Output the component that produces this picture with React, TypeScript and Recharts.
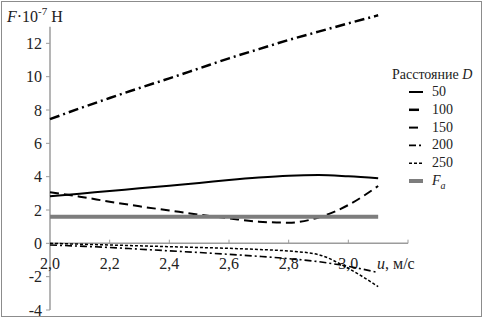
import { LineChart, Line, XAxis, YAxis, ReferenceLine } from 'recharts'

const speeds = [2.0, 2.1, 2.2, 2.3, 2.4, 2.5, 2.6, 2.7, 2.8, 2.9, 3.0, 3.1]
const d50 = [2.82, 2.98, 3.14, 3.3, 3.46, 3.62, 3.8, 3.95, 4.06, 4.1, 4.02, 3.9]
const d100 = [7.45, 8.1, 8.72, 9.32, 9.9, 10.5, 11.1, 11.65, 12.2, 12.7, 13.2, 13.68]
const d150 = [3.06, 2.8, 2.5, 2.22, 1.97, 1.72, 1.5, 1.3, 1.24, 1.55, 2.3, 3.44]
const d200 = [-0.1, -0.17, -0.25, -0.35, -0.45, -0.55, -0.66, -0.78, -0.92, -1.1, -1.38, -1.75]
const d250 = [0, -0.05, -0.1, -0.15, -0.2, -0.25, -0.3, -0.37, -0.46, -0.68, -1.5, -2.6]
const fa = [1.6, 1.6, 1.6, 1.6, 1.6, 1.6, 1.6, 1.6, 1.6, 1.6, 1.6, 1.6]

const xTicks = [2.0, 2.2, 2.4, 2.6, 2.8, 3.0]
const xTickMarks = [2.2, 2.4, 2.6, 2.8, 3.0, 3.2]
const yTicks = [-4, -2, 0, 2, 4, 6, 8, 10, 12]

const series = [
  { key: 'd50', name: '50', width: 2, dash: undefined, color: '#000' },
  { key: 'd100', name: '100', width: 2.5, dash: '10 4 2 4', color: '#000' },
  { key: 'd150', name: '150', width: 2, dash: '9 5', color: '#000' },
  { key: 'd200', name: '200', width: 1.6, dash: '7 3 2 3', color: '#000' },
  { key: 'd250', name: '250', width: 1.5, dash: '3 2', color: '#000' },
  { key: 'fa', name: 'Fa', width: 4, dash: undefined, color: '#7d7d7d' },
]

const data = speeds.map((u, i) => ({
  u,
  d50: d50[i],
  d100: d100[i],
  d150: d150[i],
  d200: d200[i],
  d250: d250[i],
  fa: fa[i],
}))

const font = 'Tinos, "Liberation Serif", serif'
const axisColor = '#9c9c9c'
const textColor = '#222'
const fmt = (v: number) => v.toFixed(1).replace('.', ',')

function YTick(props: any) {
  const { x, y, payload } = props
  return (
    <text x={x} y={y} dy={5.5} textAnchor="end" style={{ fontFamily: font, fontSize: 16 }} fill={textColor}>
      {payload.value}
    </text>
  )
}

function XTickLabel(props: any) {
  const { viewBox, value } = props
  if (!viewBox) return null
  return (
    <text
      x={viewBox.x}
      y={viewBox.y + 26}
      textAnchor="middle"
      style={{ fontFamily: font, fontSize: 16 }}
      fill={textColor}
    >
      {value}
    </text>
  )
}

const html = (left: number, top: number, size: number): React.CSSProperties => ({
  position: 'absolute',
  left,
  top,
  fontFamily: font,
  fontSize: size,
  lineHeight: `${size}px`,
  color: textColor,
  whiteSpace: 'nowrap',
})

export default function App() {
  return (
    <div style={{ position: 'absolute', left: 0, top: 0, width: 484, height: 319, background: '#fff', fontFamily: font }}>
      <div
        style={{
          position: 'absolute',
          left: 1,
          top: 1,
          width: 481,
          height: 316,
          boxSizing: 'border-box',
          border: '1px solid #8c8c8c',
        }}
      />
      <div style={{ position: 'absolute', left: 0, top: 0 }}>
        <LineChart width={484} height={319} data={data} margin={{ top: 10, right: 76, bottom: 9, left: 0 }}>
          <XAxis dataKey="u" type="number" domain={[2.0, 3.2]} hide />
          <YAxis
            type="number"
            domain={[-4, 14]}
            ticks={yTicks}
            width={50}
            axisLine={false}
            tickLine={{ stroke: axisColor }}
            tickSize={4}
            tickMargin={4}
            tick={<YTick />}
            interval={0}
          />
          <ReferenceLine
            segment={[
              { x: 2.0, y: -4 },
              { x: 2.0, y: 13 },
            ]}
            stroke={axisColor}
            strokeWidth={1.5}
          />
          <ReferenceLine y={0} stroke={axisColor} strokeWidth={1.5} />
          {xTickMarks.map((t) => (
            <ReferenceLine
              key={'m' + t}
              segment={[
                { x: t, y: 0 },
                { x: t, y: 0.22 },
              ]}
              stroke={axisColor}
            />
          ))}
          {xTicks.map((t) => (
            <ReferenceLine
              key={'l' + t}
              segment={[
                { x: t, y: 0 },
                { x: t, y: 0 },
              ]}
              stroke="none"
              label={<XTickLabel value={fmt(t)} />}
            />
          ))}
          {series.map((s) => (
            <Line
              key={s.key}
              type="monotone"
              dataKey={s.key}
              stroke={s.color}
              strokeWidth={s.width}
              strokeDasharray={s.dash}
              dot={false}
              isAnimationActive={false}
            />
          ))}
        </LineChart>
      </div>
      <svg width={484} height={319} style={{ position: 'absolute', left: 0, top: 0, pointerEvents: 'none' }}>
        {series.map((s, i) => {
          const y = 92 + i * 17.8
          return (
            <line
              key={s.key}
              x1={409}
              x2={423}
              y1={y}
              y2={y}
              stroke={s.color}
              strokeWidth={s.width}
              strokeDasharray={s.dash}
            />
          )
        })}
      </svg>
      <div style={html(7, 9, 16)}>
        <i>F</i>·10<sup style={{ fontSize: 11, verticalAlign: 7, lineHeight: 0 }}>-7</sup> Н
      </div>
      <div style={html(377, 256, 16)}>
        <i>u</i>, м/с
      </div>
      <div style={html(392, 68, 14)}>
        Расстояние <i>D</i>
      </div>
      {series.map((s, i) => {
        const y = 92 + i * 17.8
        return (
          <div key={s.key} style={html(432, y - 7, 14)}>
            {s.key === 'fa' ? (
              <i>
                F<sub style={{ fontSize: 10, verticalAlign: -4, lineHeight: 0 }}>a</sub>
              </i>
            ) : (
              s.name
            )}
          </div>
        )
      })}
    </div>
  )
}
